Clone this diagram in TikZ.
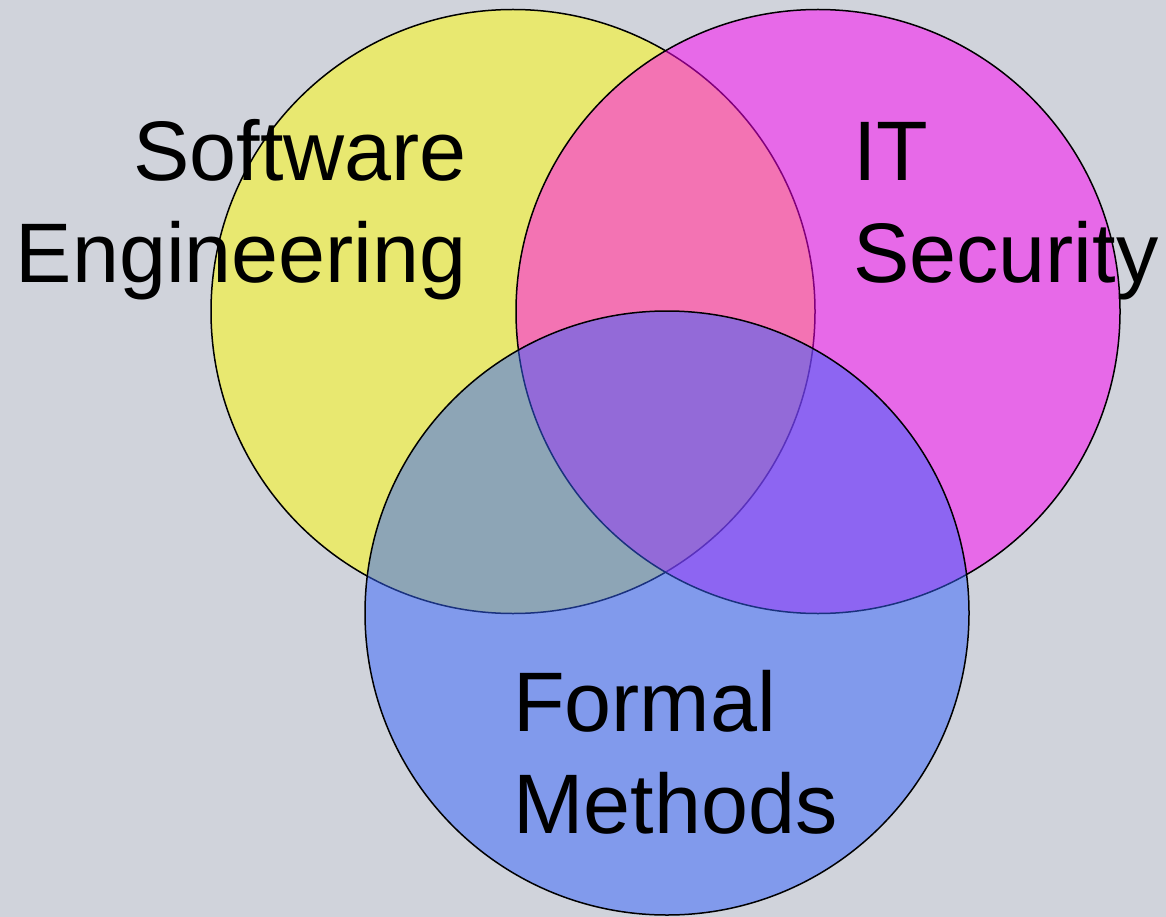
\documentclass[tikz,border=0pt]{standalone}
\usepackage{fontspec}
\setmainfont{Liberation Sans}
\definecolor{bgc}{RGB}{208,211,219}
\definecolor{sey}{RGB}{232,232,112}
\definecolor{itm}{RGB}{255,0,246}
\definecolor{fmb}{RGB}{52,99,253}
\begin{document}
\begin{tikzpicture}[x=1pt,y=-1pt,
  venn/.style={circle, draw=black, line width=1.5pt, minimum size=604pt, inner sep=0pt},
  lbl/.style={inner sep=0pt, font=\fontsize{84.5}{101.5}\selectfont}]
\fill[bgc] (0,0) rectangle (1166,917);
\useasboundingbox (0,0) rectangle (1166,917);
\node[venn, fill=sey] (se) at (513,311.5) {};
\node[venn, fill=itm, fill opacity=0.5] (it) at (818,311.5) {};
\node[venn, fill=fmb, fill opacity=0.5] (fm) at (667,613) {};
\node[lbl, anchor=base east, align=right] (tse) at (467,282) {Software\\Engineering};
\node[lbl, anchor=base west, align=left] (tit) at (853,282) {IT\\Security};
\node[lbl, anchor=base west, align=left] (tfm) at (513,833) {Formal\\Methods};
\end{tikzpicture}
\end{document}
